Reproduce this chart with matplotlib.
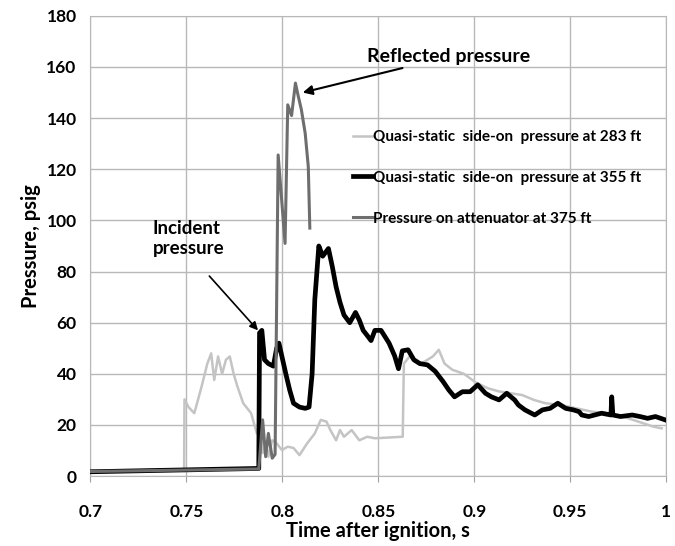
import matplotlib
matplotlib.use("Agg")
import matplotlib.pyplot as plt

plt.rcParams["font.family"] = ["Lato", "DejaVu Sans"]
plt.rcParams["font.weight"] = "bold"

# ---- data ----
t283 = [0.700, 0.7488, 0.749, 0.7511, 0.7541, 0.7561, 0.7579, 0.7609, 0.7629, 0.7645,
        0.7665, 0.7686, 0.7706, 0.7726, 0.7746, 0.7766, 0.7796, 0.7837, 0.7867, 0.7887,
        0.7897, 0.7913, 0.7927, 0.7947, 0.7968, 0.7998, 0.8028, 0.8058, 0.8089, 0.8129,
        0.8169, 0.8200, 0.8230, 0.8250, 0.8280, 0.8300, 0.8321, 0.8361, 0.8401, 0.8442,
        0.8482, 0.8627, 0.8633, 0.8663, 0.8724, 0.8784, 0.8815, 0.8845, 0.8885, 0.8946,
        0.9008, 0.9069, 0.9129, 0.9190, 0.9250, 0.9310, 0.9371, 0.9452, 0.9532, 0.9613,
        0.9694, 0.9774, 0.9855, 0.9935, 0.9976]
p283 = [2.0, 2.5, 30.0, 27.0, 24.6, 30.0, 35.0, 44.0, 48.0, 37.6,
        46.8, 40.0, 45.5, 46.8, 40.0, 35.0, 28.5, 24.6, 16.7, 22.0,
        9.0, 12.8, 7.6, 14.0, 13.0, 10.2, 11.5, 11.0, 8.2, 12.8,
        16.7, 22.0, 21.3, 18.0, 14.0, 18.0, 15.4, 18.0, 14.0, 15.4,
        14.8, 15.4, 44.0, 46.8, 44.0, 46.8, 49.4, 44.0, 41.6, 40.0,
        36.6, 34.4, 33.1, 32.4, 31.7, 29.8, 28.5, 27.8, 26.5, 25.2,
        24.6, 23.3, 21.3, 19.3, 18.7]

t355 = [0.700, 0.7877, 0.7881, 0.7893, 0.7907, 0.7927, 0.7953, 0.7970, 0.7982, 0.8018,
        0.8038, 0.8058, 0.8089, 0.8119, 0.8139, 0.8155, 0.8169, 0.8190, 0.8210, 0.8240,
        0.8260, 0.8280, 0.8300, 0.8321, 0.8351, 0.8381, 0.8401, 0.8421, 0.8442, 0.8462,
        0.8482, 0.8514, 0.8556, 0.8585, 0.8605, 0.8625, 0.8655, 0.8685, 0.8716, 0.8756,
        0.8796, 0.8837, 0.8867, 0.8897, 0.8938, 0.8978, 0.9018, 0.9058, 0.9089, 0.9129,
        0.9169, 0.9210, 0.9230, 0.9264, 0.9315, 0.9355, 0.9395, 0.9435, 0.9476, 0.9516,
        0.9546, 0.9560, 0.9596, 0.9663, 0.9712, 0.9716, 0.9722, 0.9762, 0.9823, 0.9863,
        0.9903, 0.9944, 0.9994]
p355 = [1.7, 3.0, 56.0, 57.0, 45.5, 44.0, 43.0, 50.0, 52.0, 40.0,
        33.7, 28.5, 27.0, 26.5, 27.0, 40.0, 69.0, 90.0, 86.0, 89.0,
        82.0, 74.0, 68.0, 63.0, 60.0, 64.0, 61.0, 57.0, 55.0, 53.0,
        57.0, 57.0, 52.0, 47.0, 42.0, 49.0, 49.4, 45.5, 44.0, 43.5,
        41.0, 37.0, 33.7, 31.0, 33.0, 33.0, 35.7, 32.4, 31.0, 29.8,
        32.4, 29.8, 27.8, 25.9, 23.9, 25.9, 26.5, 28.5, 26.5, 25.9,
        25.2, 23.9, 23.3, 24.6, 23.9, 31.0, 23.9, 23.3, 23.9, 23.3,
        22.6, 23.3, 22.0]

t375 = [0.700, 0.7877, 0.7897, 0.7913, 0.7927, 0.7947, 0.7962, 0.7978, 0.8014, 0.8028,
        0.8048, 0.8068, 0.8083, 0.8099, 0.8119, 0.8135, 0.8143]
p375 = [1.8, 2.8, 22.0, 7.6, 16.7, 7.0, 8.5, 125.6, 91.0, 145.2,
        141.0, 153.7, 148.5, 143.3, 134.0, 121.0, 97.0]

x_ticks = [0.7, 0.75, 0.8, 0.85, 0.9, 0.95, 1.0]
x_tick_labels = ["0.7", "0.75", "0.8", "0.85", "0.9", "0.95", "1"]
y_ticks = list(range(0, 181, 20))

fig = plt.figure(figsize=(6.75, 5.46), dpi=100)
ax = fig.add_axes([0.134, 0.128, 0.853, 0.843])

ax.plot(t283, p283, color="#c4c4c4", lw=1.8, label="Quasi-static  side-on  pressure at 283 ft", zorder=3)
ax.plot(t355, p355, color="black", lw=3.4, label="Quasi-static  side-on  pressure at 355 ft", zorder=4)
ax.plot(t375, p375, color="#6e6e6e", lw=2.2, label="Pressure on attenuator at 375 ft", zorder=5)

ax.set_xlim(0.7, 1.0)
ax.set_ylim(0, 180)
ax.set_xticks(x_ticks)
ax.set_xticklabels(x_tick_labels)
ax.set_yticks(y_ticks)
ax.tick_params(labelsize=12.5, length=4, color="#a0a0a0", pad=16)
ax.tick_params(axis="y", length=0, pad=10)
ax.grid(True, color="#b8b8b8", lw=1.0)
for s in ax.spines.values():
    s.set_color("#b8b8b8")
ax.set_xlabel("Time after ignition, s", fontsize=14.5, fontweight="bold", labelpad=1)
ax.set_ylabel("Pressure, psig", fontsize=14.5, fontweight="bold", labelpad=4)

leg = ax.legend(loc="upper left", bbox_to_anchor=(0.445, 0.765), frameon=False,
                fontsize=11, handlelength=1.3, handletextpad=0.0, labelspacing=1.75,
                borderaxespad=0)
for txt in leg.get_texts():
    txt.set_fontweight("bold")

ax.annotate("Reflected pressure", xy=(0.8106, 150), xytext=(0.844, 164),
            fontsize=14, fontweight="bold", va="center", ha="left",
            arrowprops=dict(arrowstyle="-|>", color="black", lw=1.5, mutation_scale=14,
                            shrinkA=0, shrinkB=0))
ax.annotate("Incident\npressure", xy=(0.7873, 57), xytext=(0.7324, 93),
            fontsize=13.5, fontweight="bold", va="center", ha="left", linespacing=1.2,
            arrowprops=dict(arrowstyle="-|>", color="black", lw=1.2, mutation_scale=12,
                            shrinkA=16, shrinkB=0, relpos=(0.55, 0.0)))

fig.savefig("out.png", dpi=100, facecolor="white")
